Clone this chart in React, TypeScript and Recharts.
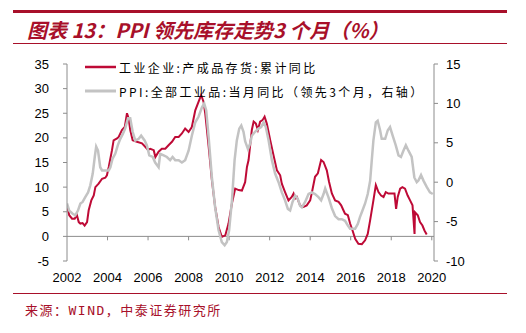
import React from 'react';
import { LineChart, Line, XAxis, YAxis, ReferenceLine, Legend } from 'recharts';

// 坐标轴刻度
const yearTicks = [2002, 2004, 2006, 2008, 2010, 2012, 2014, 2016, 2018, 2020];
const leftTicks = [-5, 0, 5, 10, 15, 20, 25, 30, 35];
const rightTicks = [-10, -5, 0, 5, 10, 15];

// 工业企业:产成品存货:累计同比（左轴，按图读数）
const stockYears = [
  2002.0, 2002.11, 2002.25, 2002.38, 2002.49, 2002.58, 2002.66, 2002.77, 2002.87, 2002.99,
  2003.07, 2003.2, 2003.32, 2003.4, 2003.56, 2003.73, 2003.89, 2003.97, 2004.06, 2004.22,
  2004.3, 2004.47, 2004.55, 2004.71, 2004.85, 2004.96, 2005.04, 2005.12, 2005.24, 2005.45,
  2005.7, 2005.86, 2005.99, 2006.11, 2006.28, 2006.36, 2006.52, 2006.68, 2006.85, 2007.01,
  2007.18, 2007.34, 2007.51, 2007.67, 2007.83, 2008.0, 2008.16, 2008.33, 2008.49, 2008.62,
  2008.74, 2008.82, 2008.99, 2009.15, 2009.31, 2009.48, 2009.64, 2009.81, 2009.97, 2010.14,
  2010.3, 2010.47, 2010.63, 2010.79, 2010.88, 2010.96, 2011.12, 2011.21, 2011.32, 2011.42,
  2011.53, 2011.65, 2011.75, 2011.86, 2012.03, 2012.19, 2012.36, 2012.52, 2012.6, 2012.76,
  2012.93, 2013.09, 2013.18, 2013.26, 2013.34, 2013.5, 2013.67, 2013.83, 2014.0, 2014.11,
  2014.24, 2014.38, 2014.54, 2014.66, 2014.82, 2014.93, 2015.07, 2015.23, 2015.4, 2015.53,
  2015.64, 2015.72, 2015.86, 2015.97, 2016.09, 2016.22, 2016.38, 2016.55, 2016.71, 2016.84,
  2016.96, 2017.12, 2017.24, 2017.37, 2017.5, 2017.62, 2017.73, 2017.86, 2018.03, 2018.16,
  2018.24, 2018.32, 2018.44, 2018.55, 2018.68, 2018.81, 2018.93, 2019.05, 2019.15, 2019.17,
  2019.31, 2019.42, 2019.54, 2019.64, 2019.75,
];
const stockValues = [
  6.3, 4.3, 3.6, 3.6, 4.3, 2.9, 2.6, 2.7, 2.2, 2.9,
  5.3, 7.3, 8.3, 10.0, 10.7, 11.7, 11.9, 12.4, 14.1, 17.5,
  19.5, 19.9, 20.2, 21.6, 22.2, 25.0, 24.0, 21.6, 19.5, 19.2,
  18.9, 18.2, 17.6, 17.8, 17.5, 16.1, 17.2, 17.8, 17.8, 18.5,
  19.2, 20.2, 20.2, 20.9, 21.9, 21.2, 22.2, 25.6, 27.3, 28.7,
  27.3, 25.0, 18.2, 11.4, 6.0, 1.9, -0.1, 0.2, 2.6, 6.7,
  9.7, 9.4, 9.3, 11.0, 14.1, 15.5, 21.6, 23.3, 22.9, 21.6,
  23.3, 23.6, 24.3, 22.9, 19.5, 16.5, 13.4, 12.4, 10.7, 9.0,
  7.3, 8.0, 8.7, 7.7, 8.0, 6.3, 6.0, 6.3, 7.3, 9.4,
  12.1, 12.8, 15.5, 15.1, 13.4, 11.1, 8.7, 7.3, 7.0, 6.3,
  5.3, 4.6, 4.3, 2.6, 1.2, -0.5, -1.5, -1.6, -0.8, 0.5,
  3.3, 7.3, 10.4, 9.0, 8.3, 8.0, 9.0, 8.7, 8.7, 8.7,
  5.6, 8.0, 9.7, 10.0, 9.7, 8.3, 7.3, 6.3, 0.5, 4.9,
  4.3, 2.9, 2.2, 1.2, 0.4,
];

// PPI:全部工业品:当月同比（领先3个月，右轴）
const ppiYears = [
  2002.0, 2002.11, 2002.28, 2002.41, 2002.54, 2002.66, 2002.77, 2002.9, 2003.04, 2003.15,
  2003.27, 2003.37, 2003.44, 2003.53, 2003.64, 2003.73, 2003.89, 2004.06, 2004.14, 2004.25,
  2004.38, 2004.51, 2004.63, 2004.75, 2004.87, 2005.01, 2005.12, 2005.24, 2005.37, 2005.54,
  2005.66, 2005.83, 2005.94, 2006.06, 2006.23, 2006.35, 2006.52, 2006.6, 2006.77, 2006.93,
  2007.09, 2007.21, 2007.34, 2007.51, 2007.67, 2007.83, 2008.0, 2008.16, 2008.33, 2008.49,
  2008.66, 2008.77, 2008.87, 2008.99, 2009.15, 2009.31, 2009.48, 2009.64, 2009.78, 2009.89,
  2010.0, 2010.14, 2010.27, 2010.38, 2010.5, 2010.6, 2010.71, 2010.79, 2010.93, 2011.04,
  2011.12, 2011.28, 2011.45, 2011.58, 2011.7, 2011.81, 2011.95, 2012.11, 2012.27, 2012.44,
  2012.6, 2012.76, 2012.9, 2013.01, 2013.13, 2013.26, 2013.39, 2013.5, 2013.59, 2013.75,
  2013.92, 2014.08, 2014.24, 2014.41, 2014.54, 2014.66, 2014.74, 2014.9, 2015.07, 2015.23,
  2015.4, 2015.56, 2015.72, 2015.86, 2015.97, 2016.09, 2016.22, 2016.35, 2016.46, 2016.58,
  2016.71, 2016.84, 2016.96, 2017.04, 2017.12, 2017.24, 2017.33, 2017.45, 2017.53, 2017.7,
  2017.83, 2017.94, 2018.07, 2018.22, 2018.36, 2018.48, 2018.6, 2018.72, 2018.85, 2019.01,
  2019.14, 2019.26, 2019.34, 2019.47, 2019.59, 2019.75, 2019.91, 2020.05,
];
const ppiValues = [
  -2.7, -3.6, -4.0, -4.2, -3.6, -2.7, -2.5, -1.9, -1.3, -0.4,
  1.1, 3.2, 4.5, 4.0, 1.9, 1.5, 1.5, 1.5, 1.9, 3.0,
  3.6, 4.7, 5.5, 6.1, 6.8, 8.1, 8.1, 6.4, 5.3, 5.5,
  5.9, 5.3, 4.7, 3.4, 3.2, 2.5, 1.9, 3.6, 3.4, 3.2,
  2.8, 3.2, 2.8, 2.8, 2.5, 2.8, 4.0, 5.9, 7.6, 8.3,
  9.5, 10.0, 9.1, 5.7, 0.6, -3.2, -6.1, -7.6, -8.0, -7.6,
  -6.1, -2.3, 2.8, 5.3, 6.8, 7.2, 6.4, 5.2, 4.2, 4.9,
  5.9, 6.4, 6.8, 7.0, 7.6, 7.0, 5.3, 2.8, 1.1, 0.0,
  -1.3, -2.3, -3.4, -3.6, -2.5, -1.7, -2.1, -3.0, -3.2, -2.5,
  -1.5, -1.3, -1.5, -1.9, -2.3, -1.5, -0.8, -1.9, -3.3, -4.3,
  -4.7, -4.7, -4.9, -5.5, -5.9, -5.9, -5.9, -5.3, -4.4, -3.6,
  -2.7, -1.5, 0.2, 2.8, 5.3, 7.6, 7.8, 6.6, 5.5, 5.5,
  6.6, 7.0, 5.9, 4.7, 3.4, 3.2, 4.0, 4.7, 4.0, 3.2,
  0.6, 0.0, 0.2, 0.9, 0.2, -0.6, -1.3, -1.5,
];

const stockName = '工业企业:产成品存货:累计同比';
const ppiName = 'PPI:全部工业品:当月同比（领先3个月，右轴）';
const legendOrder = [stockName, ppiName];

const stockData = stockYears.map((t, i) => ({ t, v: stockValues[i] }));
const ppiData = ppiYears.map((t, i) => ({ t, v: ppiValues[i] }));

const RED = '#BE0A36';
const GREY = '#C3C3C3';
const TITLE_RED = '#A8102A';
const AXIS = '#8C8C8C';

const tickStyle = { fontFamily: 'Liberation Sans, Arial, sans-serif', fontSize: 13, fill: '#000' };

const renderLegend = (props: any) => {
  const items = [...(props.payload || [])].sort(
    (a: any, b: any) => legendOrder.indexOf(a.value) - legendOrder.indexOf(b.value)
  );
  return (
    <div>
      {items.map((entry: any) => (
        <div key={entry.value} style={{ display: 'flex', alignItems: 'center', height: 24 }}>
          <svg width={31} height={4} style={{ marginRight: 3 }}>
            <line x1={0} y1={2} x2={31} y2={2} stroke={entry.color} strokeWidth={entry.color === RED ? 2.5 : 3} />
          </svg>
          <span
            style={{
              fontFamily: '"Noto Sans CJK SC", sans-serif',
              fontSize: 12,
              letterSpacing: 2.4,
              color: '#000',
              whiteSpace: 'nowrap',
            }}
          >
            {entry.value}
          </span>
        </div>
      ))}
    </div>
  );
};

export default function App() {
  return (
    <div style={{ position: 'absolute', left: 0, top: 0, width: 526, height: 333, background: '#fff' }}>
      <div style={{ position: 'absolute', left: 13, top: 10, width: 494, height: 3, background: TITLE_RED }} />
      <div
        style={{
          position: 'absolute',
          left: 27,
          top: 17,
          fontFamily: '"Noto Sans CJK SC", sans-serif',
          fontWeight: 'bold',
          fontStyle: 'italic',
          fontSize: 20,
          lineHeight: '26px',
          color: TITLE_RED,
          whiteSpace: 'nowrap',
        }}
      >
        图表 13：PPI 领先库存走势3 个月（%）
      </div>
      <div style={{ position: 'absolute', left: 13, top: 43, width: 494, height: 1, background: TITLE_RED }} />

      <div style={{ position: 'absolute', left: 0, top: 0 }}>
        <LineChart width={526} height={290} margin={{ top: 64, right: 52, left: 27, bottom: 4 }}>
          <XAxis
            dataKey="t"
            type="number"
            domain={[2002, 2020.11]}
            ticks={yearTicks}
            allowDataOverflow
            axisLine={false}
            tickLine={false}
            tickSize={0}
            tickMargin={12}
            height={25}
            tick={tickStyle}
            interval={0}
          />
          <YAxis
            yAxisId="left"
            domain={[-5, 35]}
            ticks={leftTicks}
            interval={0}
            width={40}
            stroke={AXIS}
            tickSize={4}
            tickMargin={14}
            tick={tickStyle}
            tickLine={{ stroke: AXIS }}
          />
          <YAxis
            yAxisId="right"
            orientation="right"
            domain={[-10, 15]}
            ticks={rightTicks}
            interval={0}
            width={40}
            stroke={AXIS}
            tickSize={4}
            tickMargin={8}
            tick={{ ...tickStyle, textAnchor: 'start' }}
            tickLine={{ stroke: AXIS }}
          />
          <ReferenceLine yAxisId="left" y={0} stroke={AXIS} strokeWidth={1} />
          {yearTicks.slice(1).map((yr) => (
            <ReferenceLine
              key={yr}
              yAxisId="left"
              segment={[{ x: yr, y: 0 }, { x: yr, y: -0.8 }]}
              stroke={AXIS}
            />
          ))}
          <Legend
            layout="vertical"
            align="center"
            verticalAlign="middle"
            wrapperStyle={{ top: 55, left: 85, width: 'auto' }}
            content={renderLegend}
          />
          <Line
            yAxisId="left"
            data={stockData}
            dataKey="v"
            name={stockName}
            stroke={RED}
            strokeWidth={2}
            dot={false}
            type="linear"
            isAnimationActive={false}
          />
          <Line
            yAxisId="right"
            data={ppiData}
            dataKey="v"
            name={ppiName}
            stroke={GREY}
            strokeWidth={2.5}
            dot={false}
            type="linear"
            isAnimationActive={false}
          />
        </LineChart>
      </div>

      <div style={{ position: 'absolute', left: 13, top: 293, width: 494, height: 1, background: TITLE_RED }} />
      <div
        style={{
          position: 'absolute',
          left: 25,
          top: 302,
          fontFamily: '"DejaVu Sans Mono", "Noto Sans CJK SC", monospace',
          fontSize: 13,
          lineHeight: '18px',
          letterSpacing: 1.5,
          color: TITLE_RED,
          whiteSpace: 'nowrap',
        }}
      >
        来源：WIND，中泰证券研究所
      </div>
    </div>
  );
}
